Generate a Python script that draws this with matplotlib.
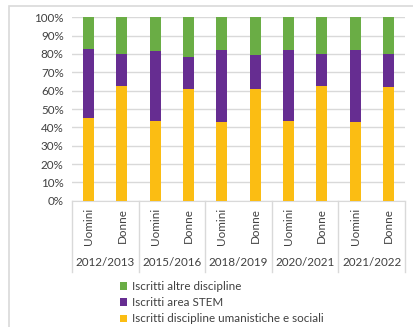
import numpy as np
import matplotlib.pyplot as plt
from matplotlib.patches import Rectangle

years = ['2012/2013', '2015/2016', '2018/2019', '2020/2021', '2021/2022']
genders = ['Uomini', 'Donne']

# percentages, order: U, D per year
umanistiche = [45.1, 62.4, 43.3, 60.9, 43.1, 61.1, 43.6, 62.4, 43.1, 62.0]
stem = [37.6, 17.8, 38.3, 17.6, 38.9, 18.3, 38.4, 17.4, 39.2, 17.8]
altre = [100 - u - s for u, s in zip(umanistiche, stem)]

c_uman = '#FBBD13'
c_stem = '#662D91'
c_altre = '#6AAD45'

W, H = 414, 327
fig = plt.figure(figsize=(W / 100, H / 100), dpi=100)
plt.rcParams['font.family'] = ['Lato', 'DejaVu Sans']
fs = 8.4

# chart border (partly cut off at right/bottom like the original)
fig.patches.append(Rectangle((9 / W, -0.1), 1.0, (H - 6) / H + 0.1,
                             transform=fig.transFigure, fill=False,
                             edgecolor='#D9D9D9', linewidth=1.2))

x0, x1, yb, yt = 72, 405, 200.7, 17.3
ax = fig.add_axes([x0 / W, (H - yb) / H, (x1 - x0) / W, (yb - yt) / H])

x = np.arange(len(umanistiche))
bw = 0.33
ax.bar(x, umanistiche, bw, color=c_uman, label='Iscritti discipline umanistiche e sociali', zorder=3)
ax.bar(x, stem, bw, bottom=umanistiche, color=c_stem, label='Iscritti area STEM', zorder=3)
bot2 = [u + s for u, s in zip(umanistiche, stem)]
ax.bar(x, altre, bw, bottom=bot2, color=c_altre, label='Iscritti altre discipline', zorder=3)

ax.set_xlim(-0.5, len(x) - 0.5)
ax.set_ylim(0, 100)
ax.set_yticks(np.arange(0, 101, 10))
ax.set_yticklabels(['%d%%' % v for v in range(0, 101, 10)], fontsize=fs, color='#404040')
ax.yaxis.grid(True, color='#D9D9D9', linewidth=1)
ax.tick_params(axis='y', length=0, pad=6)
ax.set_xticks([])
for s in ['top', 'right', 'left']:
    ax.spines[s].set_visible(False)
ax.spines['bottom'].set_color('#D9D9D9')

# multi-level category labels
ph = yb - yt
trans = ax.get_xaxis_transform()
for i in x:
    ax.text(i, -(226 - yb) / ph, genders[i % 2], rotation=90, ha='center', va='center',
            fontsize=fs, color='#404040', transform=trans)
for g, yr in enumerate(years):
    ax.text(2 * g + 0.5, -(263 - yb) / ph, yr, ha='center', va='center',
            fontsize=fs, color='#404040', transform=trans)
for g in range(len(years) + 1):
    ax.plot([2 * g - 0.5, 2 * g - 0.5], [0, -(272 - yb) / ph], color='#D9D9D9',
            linewidth=1, transform=trans, clip_on=False)

handles, labels = ax.get_legend_handles_labels()
leg = fig.legend(handles[::-1], labels[::-1], loc='upper left',
                 bbox_to_anchor=(120 / W, (H - 281) / H), frameon=False,
                 fontsize=fs, handlelength=0.62, handleheight=0.62, handletextpad=0.45,
                 labelspacing=0.45, borderaxespad=0, borderpad=0)
for t in leg.get_texts():
    t.set_color('#404040')

fig.savefig('out.png', dpi=100)
